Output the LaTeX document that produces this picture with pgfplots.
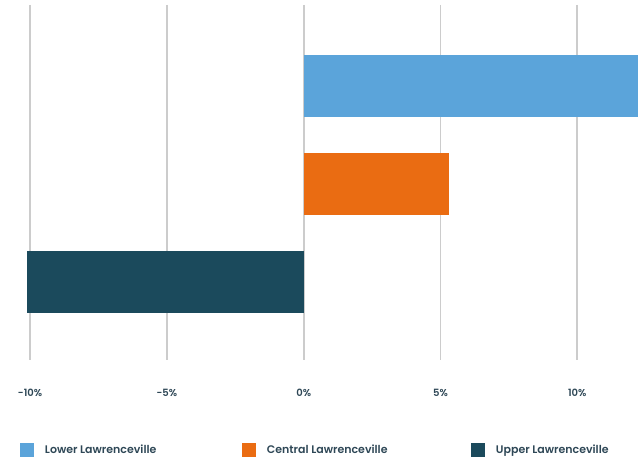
\documentclass[border=0pt]{standalone}
\usepackage{pgfplots}
\pgfplotsset{compat=1.18}
\usepackage{fontspec}
\setmainfont{Poppins SemiBold}
\definecolor{cLower}{HTML}{5BA4DA}
\definecolor{cCentral}{HTML}{EA6C12}
\definecolor{cUpper}{HTML}{1B4A5C}
\definecolor{cText}{HTML}{2E4756}
\definecolor{cGrid}{HTML}{CCCCCC}
\begin{document}
\begin{tikzpicture}
\useasboundingbox (0,0) rectangle (638pt,457pt);
\begin{axis}[
  at={(0pt,97pt)}, anchor=south west,
  scale only axis, width=638pt, height=355pt,
  xmin=-11.1, xmax=12.22,
  ymin=5, ymax=360, y dir=reverse,
  ytick=\empty,
  xtick={-10,-5,0,5,10},
  xticklabels={-10\%,-5\%,0\%,5\%,10\%},
  xticklabel style={anchor=base, yshift=-36pt, font=\fontsize{10}{12}\selectfont, text=cText},
  /pgf/number format/assume math mode=true,
  axis line style={draw=none},
  major tick length=0pt,
  xmajorgrids, grid style={cGrid, line width=1.7pt},
  legend columns=3,
  legend style={at={(axis description cs:0.0313,-0.2535)}, anchor=west, draw=none, fill=none,
    inner sep=0pt, outer sep=0pt, nodes={inner sep=0pt}, font=\fontsize{11}{13}\selectfont, text=cText,
    /tikz/every odd column/.append style={column sep=11pt},
    /tikz/every even column/.append style={column sep=0pt}},
  legend image code/.code={\fill[#1] (0pt,-7pt) rectangle (14pt,7pt);},
]
\addplot[xbar, bar width=62, bar shift=0pt, fill=cLower, draw=none] coordinates {(12.4,86)};
\addlegendentry{\makebox[197pt][l]{Lower Lawrenceville}}
\addplot[xbar, bar width=62, bar shift=0pt, fill=cCentral, draw=none] coordinates {(5.32,184)};
\addlegendentry{\makebox[204pt][l]{Central Lawrenceville}}
\addplot[xbar, bar width=62, bar shift=0pt, fill=cUpper, draw=none] coordinates {(-10.12,282)};
\addlegendentry{Upper Lawrenceville}
\end{axis}
\end{tikzpicture}
\end{document}
